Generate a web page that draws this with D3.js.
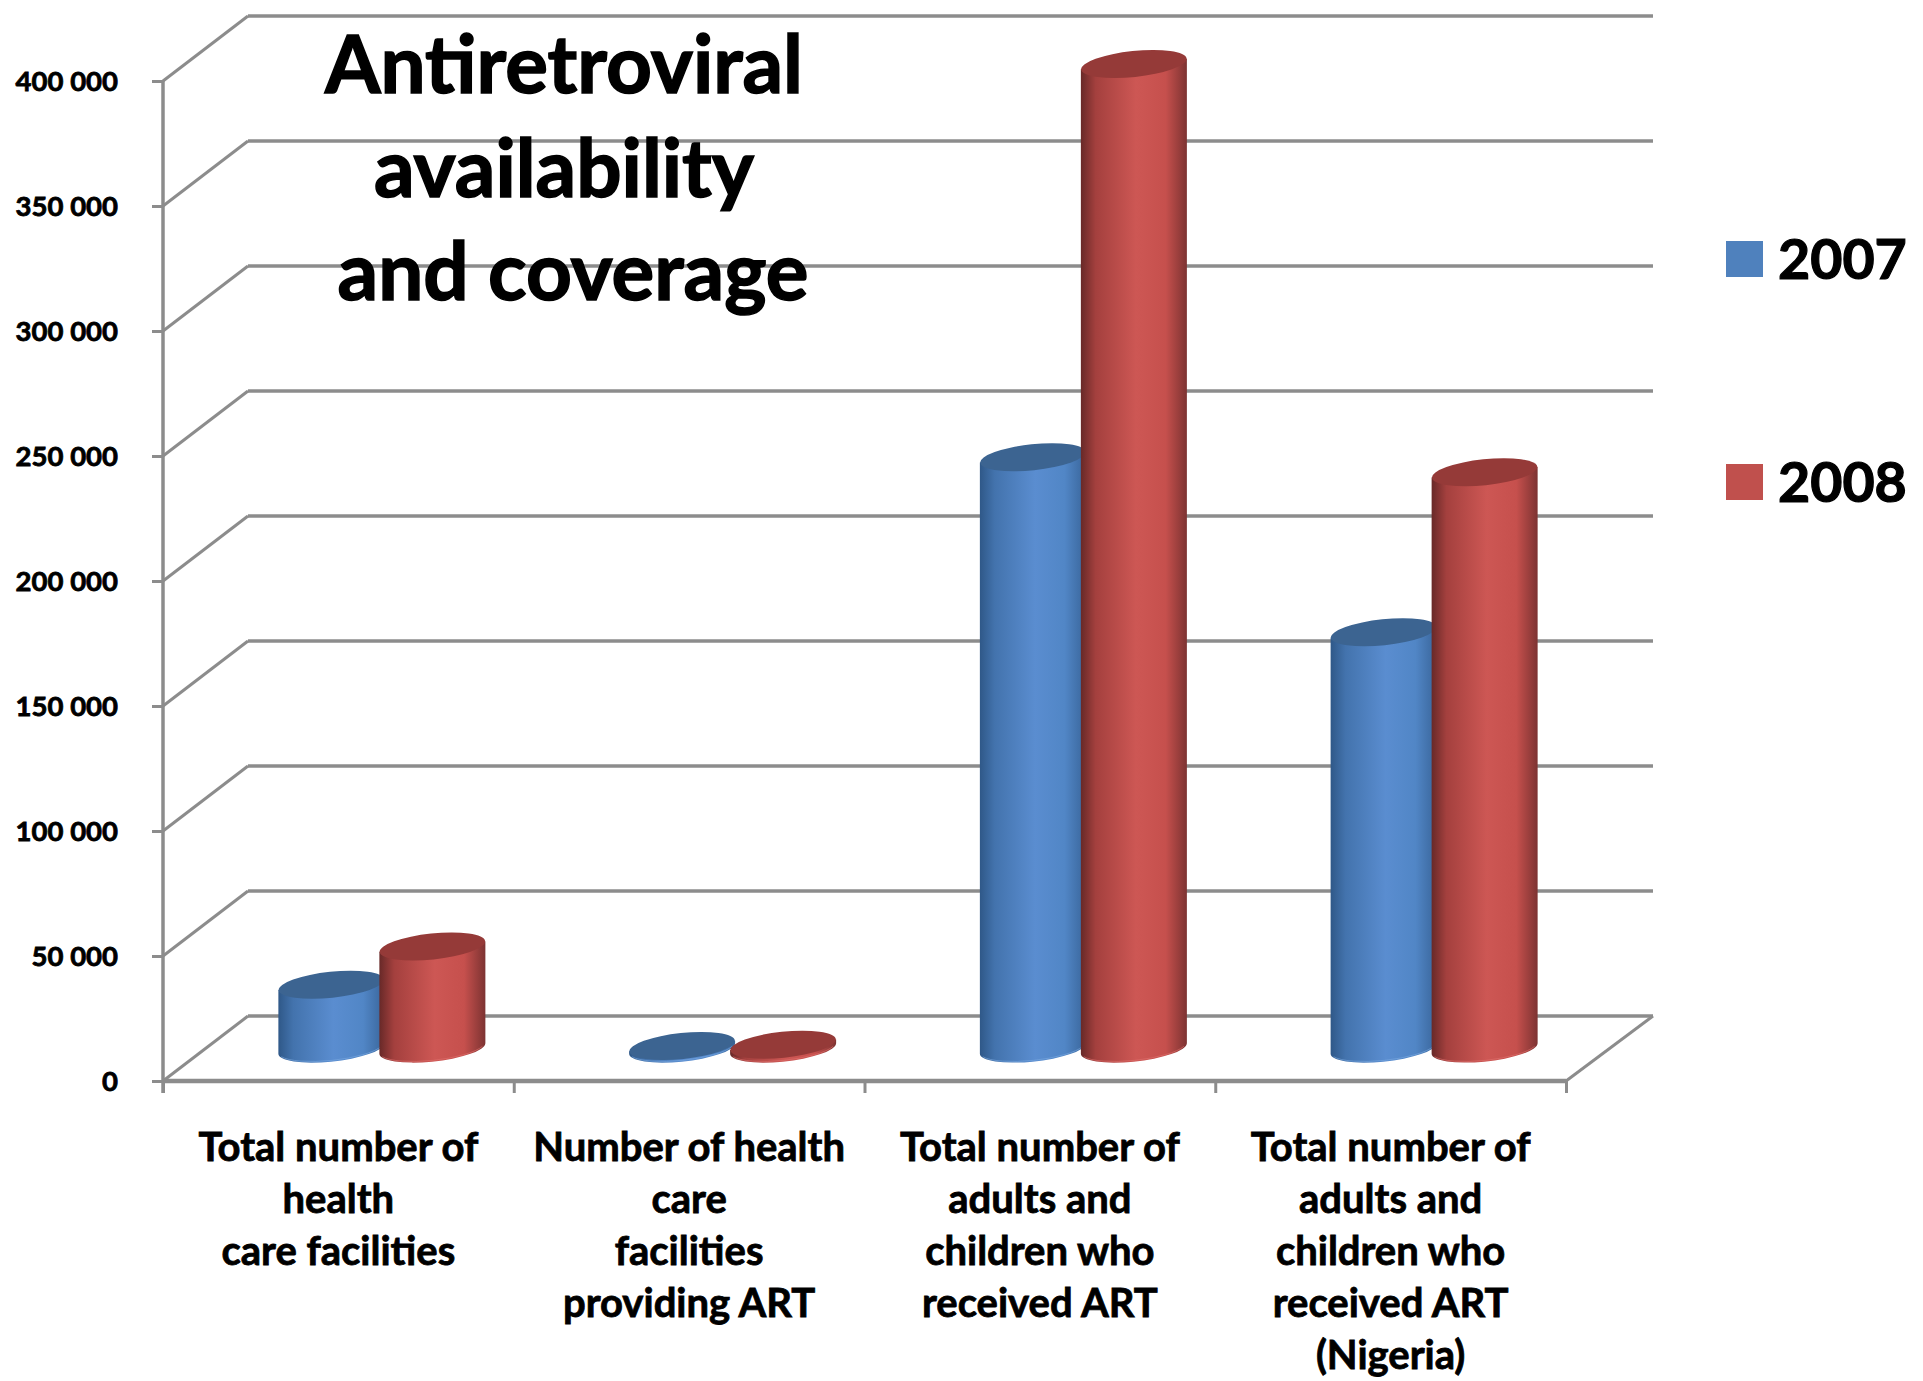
<!DOCTYPE html>
<html lang="en">
<head>
  <meta charset="UTF-8">
  <title>Antiretroviral availability and coverage</title>
  <script src="https://d3js.org/d3.v7.min.js"></script>
  <style>
    html, body { margin: 0; padding: 0; background: #fff; }
    svg { display: block; }
    text { font-family: Lato, "Open Sans", sans-serif; font-weight: 700; fill: #000; stroke: #000; stroke-width: 0.8px; }
  </style>
</head>
<body>
  <svg id="chart" width="1923" height="1381"></svg>
  <script>
    // Data
    const categories = [
      ["Total number of", "health", "care facilities"],
      ["Number of health", "care", "facilities", "providing ART"],
      ["Total number of", "adults and", "children who", "received ART"],
      ["Total number of", "adults and", "children who", "received ART", "(Nigeria)"]
    ];
    const years = ["2007", "2008"];
    const values2007 = [25500, 1000, 236500, 166500];
    const values2008 = [40800, 1500, 393800, 230500];
    const yTicks = [0, 50000, 100000, 150000, 200000, 250000, 300000, 350000, 400000];
    const titleLines = ["Antiretroviral", "availability", "and coverage"];

    const seriesValues = [values2007, values2008];

    // Colours per series: side shading, top cap, base rim, legend
    const sideStops = [
      ["#2f5888", "#4373ad", "#5a8dd0", "#5186c6", "#39659a"],
      ["#682928", "#a4403e", "#cd5754", "#c6504d", "#7d3332"]
    ];
    const capColor = ["#3c6491", "#953a38"];
    const rimColor = ["#7aa8e0", "#e0706c"];
    const legendColor = ["#4f81bd", "#c0504d"];

    // Plot frame, with the depth offset of the 3D floor
    const frontLeft = 163, frontRight = 1566;
    const backLeft = 248, backRight = 1653;
    const depthX = 87, depthY = 65;
    const y = d3.scaleLinear().domain([0, 400000]).range([1081, 81]);
    const x = d3.scaleBand().domain(d3.range(categories.length)).range([frontLeft, frontRight]);
    const xEdges = d3.scaleLinear().domain([0, categories.length]).range([frontLeft, frontRight]);
    const xYear = d3.scaleBand().domain(d3.range(years.length)).range([-101, 101]);

    const svg = d3.select("#chart");
    const defs = svg.append("defs");

    sideStops.forEach((stops, s) => {
      const grad = defs.append("linearGradient").attr("id", "side" + s);
      [0, 0.14, 0.52, 0.8, 1].forEach((off, i) => {
        grad.append("stop").attr("offset", off).attr("stop-color", stops[i]);
      });
    });

    /***********************
     * Walls and grid
     ***********************/
    const grid = svg.append("g").attr("fill", "none").attr("stroke", "#8c8c8c");

    grid.selectAll(".side")
      .data(yTicks)
      .enter()
      .append("line")
      .attr("x1", frontLeft)
      .attr("y1", d => y(d))
      .attr("x2", backLeft)
      .attr("y2", d => y(d) - depthY)
      .attr("stroke-width", 3);

    grid.selectAll(".back")
      .data(yTicks)
      .enter()
      .append("line")
      .attr("x1", backLeft)
      .attr("y1", d => y(d) - depthY)
      .attr("x2", backRight)
      .attr("y2", d => y(d) - depthY)
      .attr("stroke-width", 3.5);

    grid.append("line")
      .attr("x1", frontRight)
      .attr("y1", y(0))
      .attr("x2", backRight)
      .attr("y2", y(0) - depthY)
      .attr("stroke-width", 3);

    /***********************
     * Axes
     ***********************/
    const spaced = d3.formatLocale({ thousands: " ", grouping: [3], decimal: ".", currency: ["", ""] }).format(",");

    const yAxis = svg.append("g")
      .attr("transform", `translate(${frontLeft},0)`)
      .call(d3.axisLeft(y).tickValues(yTicks).tickFormat(spaced).tickSize(11).tickPadding(34));
    yAxis.select(".domain").remove();
    yAxis.selectAll("line").attr("stroke", "#8c8c8c").attr("stroke-width", 3);
    yAxis.selectAll("text").attr("font-size", 27.5).attr("dy", "0.36em");

    const xAxis = svg.append("g")
      .attr("transform", `translate(0,${y(0)})`)
      .call(d3.axisBottom(xEdges).ticks(categories.length).tickFormat("").tickSize(12));
    xAxis.select(".domain").remove();
    xAxis.selectAll("line").attr("stroke", "#8c8c8c").attr("stroke-width", 3);

    svg.append("line")
      .attr("x1", frontLeft)
      .attr("y1", y(400000))
      .attr("x2", frontLeft)
      .attr("y2", y(0) + 12)
      .attr("stroke", "#8c8c8c")
      .attr("stroke-width", 3.5);

    svg.append("line")
      .attr("x1", frontLeft)
      .attr("y1", y(0))
      .attr("x2", frontRight)
      .attr("y2", y(0))
      .attr("stroke", "#8c8c8c")
      .attr("stroke-width", 4.5);

    // Category labels, one text per wrapped line
    categories.forEach((lines, i) => {
      svg.append("text")
        .attr("x", x(i) + x.bandwidth() / 2)
        .attr("y", 1161)
        .attr("text-anchor", "middle")
        .attr("font-size", 40)
        .selectAll("tspan")
        .data(lines)
        .enter()
        .append("tspan")
        .attr("x", x(i) + x.bandwidth() / 2)
        .attr("dy", (d, j) => j ? 52 : 0)
        .text(d => d);
    });

    /***********************
     * Cylinders
     ***********************/
    const rx = 53, ry = 13, tilt = -6;
    const sh = 5.2; // vertical offset of the tilted ellipse's side points
    const barsG = svg.append("g");

    categories.forEach((lines, i) => {
      const cx = x(i) + x.bandwidth() / 2 + depthX / 2;
      seriesValues.forEach((vals, s) => {
        const mid = cx + xYear(s) + xYear.bandwidth() / 2;
        const left = mid - rx, right = mid + rx;
        const top = y(vals[i]) - depthY / 2;
        const base = y(0) - depthY / 2;

        barsG.append("path")
          .attr("d", `M${left},${top + sh}L${left},${base + sh}A${rx},${ry} ${tilt} 0 0 ${right},${base - sh}L${right},${top - sh}Z`)
          .attr("fill", `url(#side${s})`);

        barsG.append("path")
          .attr("d", `M${left + 3},${base + sh + 3}A${rx},${ry} ${tilt} 0 0 ${right - 3},${base - sh + 3}`)
          .attr("fill", "none")
          .attr("stroke", rimColor[s])
          .attr("stroke-width", 1)
          .attr("opacity", 0.6);

        barsG.append("ellipse")
          .attr("rx", rx)
          .attr("ry", ry)
          .attr("transform", `translate(${mid},${top}) rotate(${tilt})`)
          .attr("fill", capColor[s]);
      });
    });

    /***********************
     * Title and legend
     ***********************/
    svg.append("g")
      .selectAll("text")
      .data(titleLines)
      .enter()
      .append("text")
      .attr("x", (d, i) => [564, 564, 573][i])
      .attr("y", (d, i) => [93, 197, 300][i])
      .attr("text-anchor", "middle")
      .attr("font-size", 80)
      .style("stroke-width", "1.5px")
      .text(d => d);

    const legend = svg.append("g");
    years.forEach((yr, s) => {
      const ly = [241, 464][s];
      legend.append("rect")
        .attr("x", 1726)
        .attr("y", ly)
        .attr("width", 37)
        .attr("height", 36)
        .attr("fill", legendColor[s]);
      legend.append("text")
        .attr("x", 1778)
        .attr("y", ly + 38)
        .attr("font-size", 55.5)
        .style("stroke-width", "1.2px")
        .text(yr);
    });
  </script>
</body>
</html>
